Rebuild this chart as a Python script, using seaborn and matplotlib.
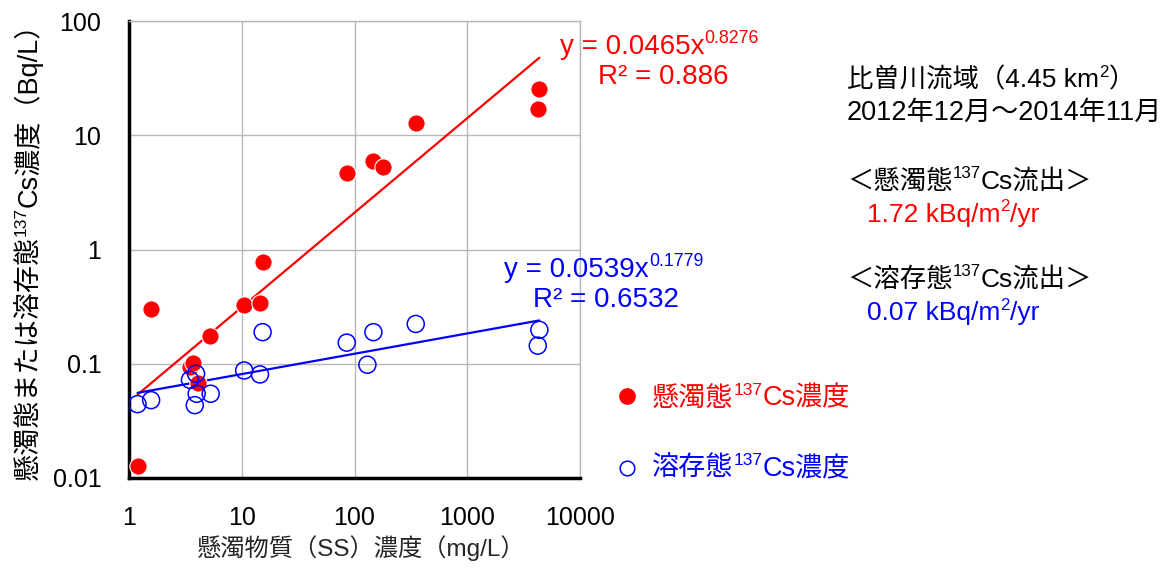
import numpy as np
import pandas as pd
import matplotlib
matplotlib.use("Agg")
import matplotlib.pyplot as plt
import seaborn as sns
from matplotlib.ticker import LogLocator, FixedLocator, NullFormatter, FuncFormatter
from matplotlib.lines import Line2D

# Suspended-sediment concentration (mg/L) and 137Cs concentrations (Bq/L)
ss_particulate = [1.19, 1.57, 3.45, 3.67, 4.1, 5.23, 10.5, 14.5, 15.3,
                  85.3, 147, 179, 349, 4217, 4355]
cs_particulate = [0.0126, 0.302, 0.093, 0.101, 0.068, 0.174, 0.326, 0.339, 0.779,
                  4.65, 6.0, 5.25, 12.7, 17.0, 25.4]

ss_dissolved = [1.19, 1.57, 3.47, 3.93, 3.98, 3.83, 5.3, 10.5, 14.5, 15.3,
                85.3, 130, 147, 349, 4355, 4217]
cs_dissolved = [0.0443, 0.048, 0.0723, 0.0817, 0.0546, 0.0434, 0.0546, 0.0873, 0.0806,
                0.189, 0.153, 0.098, 0.189, 0.223, 0.198, 0.144]

# Power-law fits y = a * x^b and their R²
fit_particulate = (0.0465, 0.8276, 0.886)
fit_dissolved = (0.0539, 0.1779, 0.6532)

x_ticks = [1, 10, 100, 1000, 10000]
y_ticks = [0.01, 0.1, 1, 10, 100]

sns.set_style("white")
FAMILY = ["Liberation Sans", "Noto Sans CJK JP", "DejaVu Sans"]
plt.rcParams["font.family"] = FAMILY

RED = "#ff0000"
BLUE = "#0000ff"

fig = plt.figure(figsize=(11.73, 5.69), dpi=100)
ax = fig.add_axes([0.110, 0.160, 0.3845, 0.803])

df_p = pd.DataFrame({"ss": ss_particulate, "cs": cs_particulate})
df_d = pd.DataFrame({"ss": ss_dissolved, "cs": cs_dissolved})

# Fitted power-law lines over the range of each series
for df, (a, b, _), col in [(df_p, fit_particulate, RED), (df_d, fit_dissolved, BLUE)]:
    xs = np.logspace(np.log10(df["ss"].min()), np.log10(df["ss"].max()), 50)
    fit_df = pd.DataFrame({"ss": xs, "cs": a * xs ** b})
    sns.lineplot(data=fit_df, x="ss", y="cs", ax=ax, color=col, linewidth=1.6, zorder=2)

sns.scatterplot(data=df_p, x="ss", y="cs", ax=ax, color=RED, edgecolor="white",
                linewidth=0.8, s=155, zorder=3)
sns.scatterplot(data=df_d, x="ss", y="cs", ax=ax, facecolor="none", edgecolor=BLUE,
                linewidth=1.1, s=150, zorder=4)

ax.set_xscale("log")
ax.set_yscale("log")
ax.set_xlim(1, 10000)
ax.set_ylim(0.01, 100)

fmt = FuncFormatter(lambda v, p: f"{v:g}")
ax.xaxis.set_major_locator(FixedLocator(x_ticks))
ax.yaxis.set_major_locator(FixedLocator(y_ticks))
ax.xaxis.set_major_formatter(fmt)
ax.yaxis.set_major_formatter(fmt)
ax.xaxis.set_minor_locator(LogLocator(base=10, subs=np.arange(2, 10), numticks=20))
ax.yaxis.set_minor_locator(LogLocator(base=10, subs=np.arange(2, 10), numticks=20))
ax.xaxis.set_minor_formatter(NullFormatter())
ax.yaxis.set_minor_formatter(NullFormatter())

ax.tick_params(axis="both", which="both", direction="in", top=False, right=False,
               colors="black", labelsize=18, width=1.8)
ax.tick_params(axis="x", which="major", length=8, pad=20)
ax.tick_params(axis="y", which="major", length=8, pad=20)
ax.tick_params(axis="both", which="minor", length=6)

ax.grid(True, which="major", color="#b8b8b8", linewidth=1.0)
ax.set_axisbelow(True)
for side in ["left", "bottom"]:
    ax.spines[side].set_color("black")
    ax.spines[side].set_linewidth(2.5)
for side in ["top", "right"]:
    ax.spines[side].set_color("#b8b8b8")
    ax.spines[side].set_linewidth(1.0)

ax.set_xlabel("懸濁物質（SS）濃度（mg/L）", fontsize=17.5, labelpad=4)
ax.xaxis.label.set_x(0.515)
ax.set_ylabel("")
if ax.get_legend() is not None:
    ax.get_legend().remove()

fig.canvas.draw()
renderer = fig.canvas.get_renderer()
W, H = fig.bbox.width, fig.bbox.height
SUP = 0.64


def rich_text(x, y, parts, size, color):
    """Horizontal line of text built from (string, is_superscript) pieces."""
    cur_x = x
    for s, sup in parts:
        fs = size * SUP if sup else size
        dy = size * 0.40 / 72 * fig.dpi / H if sup else 0
        t = fig.text(cur_x, y + dy, s, color=color, fontsize=fs, va="baseline",
                     family=FAMILY)
        cur_x += t.get_window_extent(renderer).width / W
    return cur_x


def rich_text_vertical(x, y_center, parts, size, color):
    """Text rotated by 90 degrees, centred vertically on y_center."""
    texts = []
    cur_y = 0.0
    for s, sup in parts:
        fs = size * SUP if sup else size
        dx = -size * 0.40 / 72 * fig.dpi / W if sup else 0
        t = fig.text(x + dx, cur_y, s, color=color, fontsize=fs, rotation=90,
                     rotation_mode="anchor", ha="left", va="baseline", family=FAMILY)
        texts.append((t, cur_y))
        cur_y += t.get_window_extent(renderer).height / H
    shift = y_center - cur_y / 2
    for t, yy in texts:
        t.set_y(yy + shift)


# Y-axis label
rich_text_vertical(0.031, 0.570,
                   [("懸濁態または溶存態", False), ("137", True), ("Cs濃度（Bq/L）", False)],
                   19.5, "black")

# Fit equations
rich_text(0.477, 0.905, [("y = 0.0465x", False), ("0.8276", True)], 20, RED)
rich_text(0.510, 0.853, [("R² = 0.886", False)], 20, RED)
rich_text(0.430, 0.513, [("y = 0.0539x", False), ("0.1779", True)], 20, BLUE)
rich_text(0.454, 0.461, [("R² = 0.6532", False)], 20, BLUE)

# Catchment info and fluxes
rich_text(0.722, 0.847, [("比曽川流域（4.45 km", False), ("2", True), ("）", False)], 19, "black")
rich_text(0.722, 0.790, [("2012年12月～2014年11月", False)], 19.5, "black")
rich_text(0.722, 0.668, [("＜懸濁態", False), ("137", True), ("Cs流出＞", False)], 19, "black")
rich_text(0.739, 0.610, [("1.72 kBq/m", False), ("2", True), ("/yr", False)], 19, RED)
rich_text(0.722, 0.496, [("＜溶存態", False), ("137", True), ("Cs流出＞", False)], 19, "black")
rich_text(0.739, 0.437, [("0.07 kBq/m", False), ("2", True), ("/yr", False)], 19, BLUE)

# Legend
fig.add_artist(Line2D([0.5345], [0.304], transform=fig.transFigure, linestyle="none",
                      marker="o", markersize=11, markerfacecolor=RED, markeredgecolor=RED))
fig.add_artist(Line2D([0.5345], [0.178], transform=fig.transFigure, linestyle="none",
                      marker="o", markersize=10.5, markerfacecolor="none",
                      markeredgecolor=BLUE, markeredgewidth=1.1))
rich_text(0.556, 0.287, [("懸濁態", False), ("137", True), ("Cs濃度", False)], 19.5, RED)
rich_text(0.556, 0.163, [("溶存態", False), ("137", True), ("Cs濃度", False)], 19.5, BLUE)

fig.savefig("out.png", dpi=100)
